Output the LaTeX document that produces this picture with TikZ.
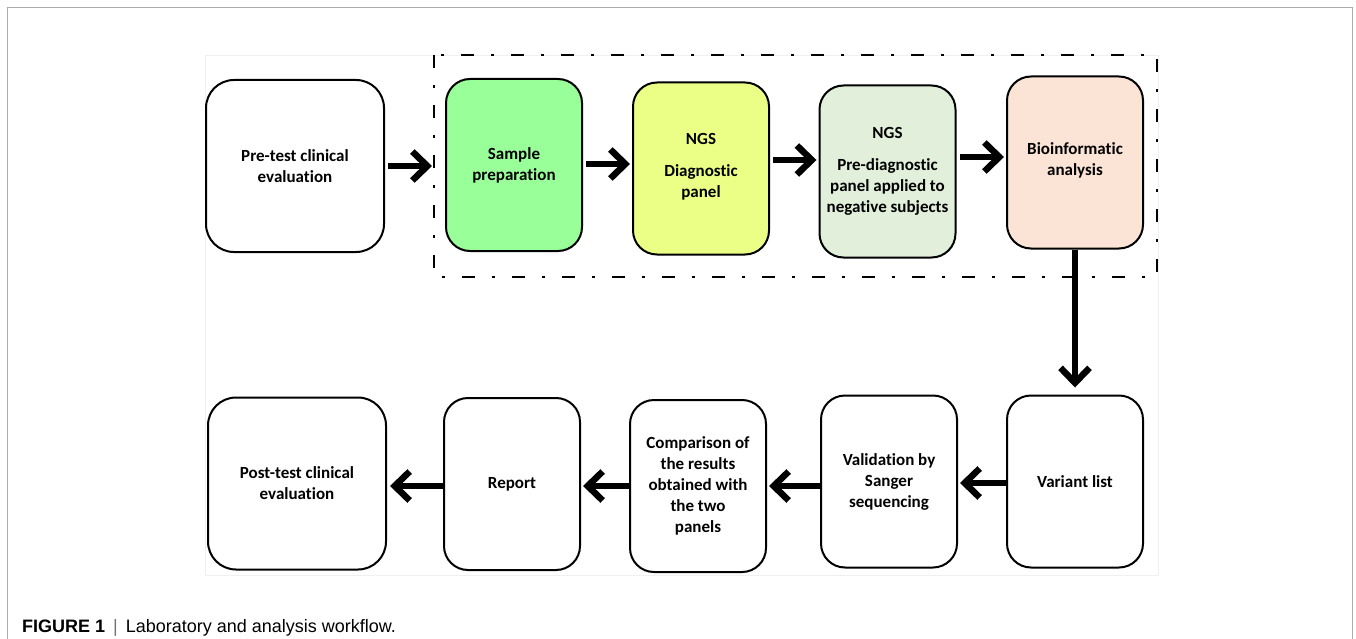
\documentclass[tikz,border=0pt]{standalone}
\usepackage{fontspec}
\setmainfont{Carlito}[Ligatures=NoCommon]
\newfontfamily\capfont{Liberation Sans}
\usetikzlibrary{arrows.meta}
\definecolor{framegray}{HTML}{ABABAB}
\definecolor{cgreen}{HTML}{99FF99}
\definecolor{cyellow}{HTML}{EBFF87}
\definecolor{cpale}{HTML}{E2EFDA}
\definecolor{cpeach}{HTML}{FBE4D5}
\tikzset{
  box/.style={draw=black, line width=2pt, rounded corners=28pt, inner sep=0pt,
    align=center, font=\fontsize{17}{21}\selectfont\bfseries},
  bigbox/.style={box, minimum width=178pt, minimum height=172pt},
  smallbox/.style={box, minimum width=136pt, minimum height=172pt, rounded corners=24pt},
  flow/.style={line width=6.5pt, -{Straight Barb[length=15pt,width=29pt]}},
}
\begin{document}
\begin{tikzpicture}[x=1pt,y=-1pt]
\useasboundingbox (0,0) rectangle (1356,639);
% outer frame
\draw[framegray, line width=1.5pt] (7.5,639) -- (7.5,7.5) -- (1352.5,7.5) -- (1352.5,639);
% faint image region
\draw[black!6, line width=0.6pt] (205,55) rectangle (1158,575);
% dashed group
\draw[line width=2pt, dash pattern=on 13pt off 17pt on 3pt off 17pt]
  (434,55) rectangle (1157,277);
% row 1
\node[bigbox] (pre) at (295,166) {Pre-test clinical\\evaluation};
\node[smallbox, fill=cgreen] (samp) at (514,165) {Sample\\preparation};
\node[smallbox, fill=cyellow] (diag) at (701,168.5) {NGS\\[11pt]Diagnostic\\panel\\[-15pt]\mbox{}};
\node[smallbox, fill=cpale] (prediag) at (887.5,171.5) {NGS\\[11pt]Pre-diagnostic\\panel applied to\\negative subjects};
\node[smallbox, fill=cpeach] (bio) at (1075,162.5) {Bioinformatic\\analysis\\[-14pt]\mbox{}};
% row 2
\node[bigbox] (post) at (297,483.5) {Post-test clinical\\evaluation};
\node[smallbox] (rep) at (512,484) {Report};
\node[smallbox] (comp) at (698,486) {Comparison of\\the results\\obtained with\\the two\\panels};
\node[smallbox] (val) at (889,481.5) {Validation by\\Sanger\\sequencing};
\node[smallbox] (var) at (1075,481.5) {Variant list};
% connectors
\draw[flow] ([xshift=3pt]pre.east |- 0,166) -- (432,166) coordinate (gin);
\draw[flow] ([xshift=3pt]samp.east |- 0,164) -- ([xshift=-2pt]diag.west |- 0,164);
\draw[flow] ([xshift=3pt]diag.east |- 0,160) -- ([xshift=-2pt]prediag.west |- 0,160);
\draw[flow] ([xshift=3pt]prediag.east |- 0,157) -- ([xshift=-2pt]bio.west |- 0,157);
\draw[flow] (bio.south) -- ([yshift=7pt]var.north);
\draw[flow] (var.west |- 0,483) -- ([xshift=2pt]val.east |- 0,483);
\draw[flow] (val.west |- 0,486) -- ([xshift=2pt]comp.east |- 0,486);
\draw[flow] (comp.west |- 0,486) -- ([xshift=2pt]rep.east |- 0,486);
\draw[flow] (rep.west |- 0,486) -- ([xshift=3pt]post.east |- 0,486);
% caption
\node[anchor=base west, inner sep=0pt, font=\capfont\fontsize{18}{21}\selectfont] (cap) at (22,632)
  {\textbf{FIGURE 1}\hspace{8pt}{\color{black!55}|}\hspace{8pt}Laboratory and analysis workflow.};
\end{tikzpicture}
\end{document}
